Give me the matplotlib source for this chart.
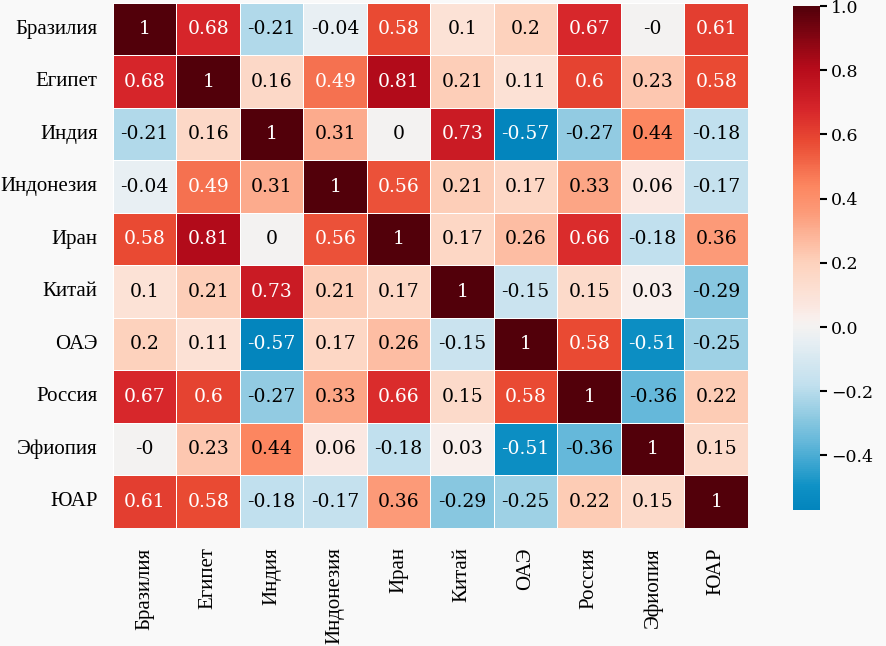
import matplotlib
matplotlib.use("Agg")
import matplotlib.pyplot as plt
import numpy as np
import seaborn as sns
from matplotlib.colors import LinearSegmentedColormap

countries = ["Бразилия", "Египет", "Индия", "Индонезия", "Иран",
             "Китай", "ОАЭ", "Россия", "Эфиопия", "ЮАР"]

corr = np.array([
    [1, 0.68, -0.21, -0.04, 0.58, 0.1, 0.2, 0.67, -0.0, 0.61],
    [0.68, 1, 0.16, 0.49, 0.81, 0.21, 0.11, 0.6, 0.23, 0.58],
    [-0.21, 0.16, 1, 0.31, 0, 0.73, -0.57, -0.27, 0.44, -0.18],
    [-0.04, 0.49, 0.31, 1, 0.56, 0.21, 0.17, 0.33, 0.06, -0.17],
    [0.58, 0.81, 0, 0.56, 1, 0.17, 0.26, 0.66, -0.18, 0.36],
    [0.1, 0.21, 0.73, 0.21, 0.17, 1, -0.15, 0.15, 0.03, -0.29],
    [0.2, 0.11, -0.57, 0.17, 0.26, -0.15, 1, 0.58, -0.51, -0.25],
    [0.67, 0.6, -0.27, 0.33, 0.66, 0.15, 0.58, 1, -0.36, 0.22],
    [-0.0, 0.23, 0.44, 0.06, -0.18, 0.03, -0.51, -0.36, 1, 0.15],
    [0.61, 0.58, -0.18, -0.17, 0.36, -0.29, -0.25, 0.22, 0.15, 1],
])

vmin, vmax = -0.57, 1.0
# опорные цвета палитры (значение -> цвет)
stops = [(-0.57, "#0385bd"), (-0.5, "#0e91c5"), (-0.36, "#65b8da"),
         (-0.29, "#8ac8e0"), (-0.18, "#c2e0ee"), (-0.04, "#e8eff3"),
         (0.0, "#f4f2f1"), (0.03, "#f9efec"), (0.06, "#fbe8e1"),
         (0.2, "#fdd2bd"), (0.36, "#fc9a78"), (0.44, "#fc8660"),
         (0.58, "#e94a33"), (0.68, "#d6252a"), (0.81, "#b50b1a"),
         (1.0, "#52000a")]
cmap = LinearSegmentedColormap.from_list(
    "bricks", [((v - vmin) / (vmax - vmin), c) for v, c in stops])

bg = "#f9f9f9"
fig = plt.figure(figsize=(8.86, 6.46), dpi=100, facecolor=bg)
ax = fig.add_axes([0.1275, 0.1827, 0.7167, 0.8127])
cax = fig.add_axes([0.895, 0.2105, 0.030, 0.7802])

sns.heatmap(corr, ax=ax, cbar_ax=cax, cmap=cmap, vmin=vmin, vmax=vmax,
            annot=True, fmt="g", linewidths=0.7, linecolor="white",
            annot_kws={"family": "DejaVu Serif", "size": 13.5},
            xticklabels=countries, yticklabels=countries)

# цвет подписей в ячейках
for txt, v in zip(ax.texts, corr.flatten()):
    txt.set_color("white" if abs(v) > 0.45 else "black")

ax.set_facecolor(bg)
ax.tick_params(length=0)
ax.tick_params(axis="y", pad=11)
ax.tick_params(axis="x", pad=14)
for t in ax.get_yticklabels():
    t.set_family("Liberation Serif")
    t.set_fontsize(15)
    t.set_rotation(0)
for t in ax.get_xticklabels():
    t.set_family("Liberation Serif")
    t.set_fontsize(15)
    t.set_rotation(90)

cax.tick_params(labelsize=12.5, width=1.5, length=5)
cax.set_yticks([-0.4, -0.2, 0.0, 0.2, 0.4, 0.6, 0.8, 1.0])
for t in cax.get_yticklabels():
    t.set_family("DejaVu Serif")

fig.savefig("out.png", dpi=100, facecolor=bg)
